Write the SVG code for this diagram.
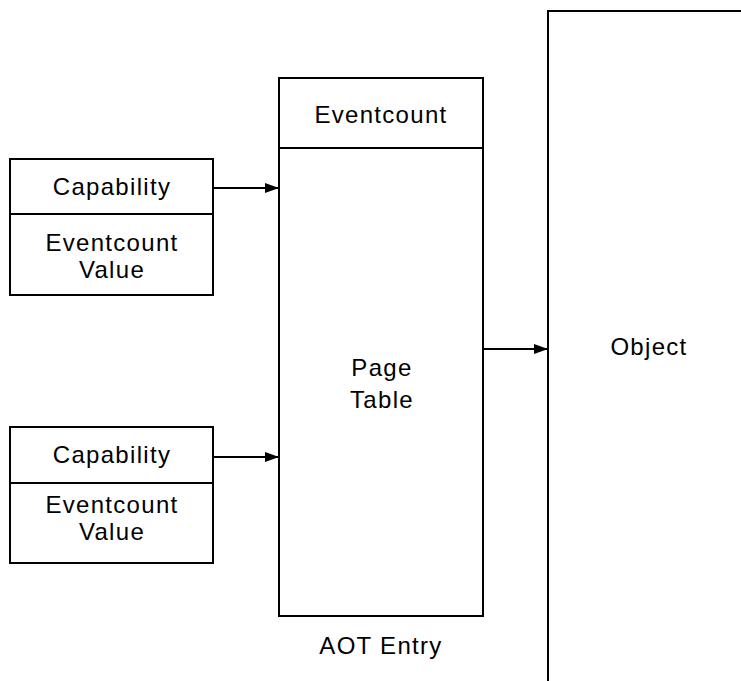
<svg xmlns="http://www.w3.org/2000/svg" width="741" height="681" viewBox="0 0 741 681">
  <style>
    .box { fill: none; stroke: #000; stroke-width: 2; }
    .ln { fill: none; stroke: #000; stroke-width: 2; }
    .t { font-family: "Liberation Sans", Arial, sans-serif; font-size: 24px; letter-spacing: 1.3px; fill: #000; text-anchor: middle; }
  </style>
  <defs>
    <marker id="arrow" viewBox="0 0 14 10" refX="14" refY="5" markerWidth="14" markerHeight="10" markerUnits="userSpaceOnUse" orient="auto">
      <path d="M0,0 L14,5 L0,10 Z" fill="#000"/>
    </marker>
  </defs>
  <rect width="741" height="681" fill="#fff"/>

  <g id="cap1">
    <rect class="box" x="10" y="159" width="203" height="136"/>
    <line class="ln" x1="10" y1="214" x2="213" y2="214"/>
    <text class="t" x="112" y="195">Capability</text>
    <text class="t" x="112" y="251">Eventcount</text>
    <text class="t" x="112" y="278">Value</text>
  </g>

  <g id="cap2">
    <rect class="box" x="10" y="427" width="203" height="136"/>
    <line class="ln" x1="10" y1="483" x2="213" y2="483"/>
    <text class="t" x="112" y="463">Capability</text>
    <text class="t" x="112" y="513">Eventcount</text>
    <text class="t" x="112" y="540">Value</text>
  </g>

  <g id="aot">
    <rect class="box" x="279" y="78" width="204" height="538"/>
    <line class="ln" x1="279" y1="148" x2="483" y2="148"/>
    <text class="t" x="381" y="123">Eventcount</text>
    <text class="t" x="382" y="376">Page</text>
    <text class="t" x="382" y="408">Table</text>
    <text class="t" x="381" y="654">AOT Entry</text>
  </g>

  <g id="object">
    <polyline class="ln" points="548,681 548,11 741,11"/>
    <text class="t" x="649" y="355">Object</text>
  </g>

  <g id="connectors">
    <line class="ln" x1="213" y1="188" x2="279" y2="188" marker-end="url(#arrow)"/>
    <line class="ln" x1="213" y1="457" x2="279" y2="457" marker-end="url(#arrow)"/>
    <line class="ln" x1="483" y1="349" x2="548" y2="349" marker-end="url(#arrow)"/>
  </g>
</svg>
